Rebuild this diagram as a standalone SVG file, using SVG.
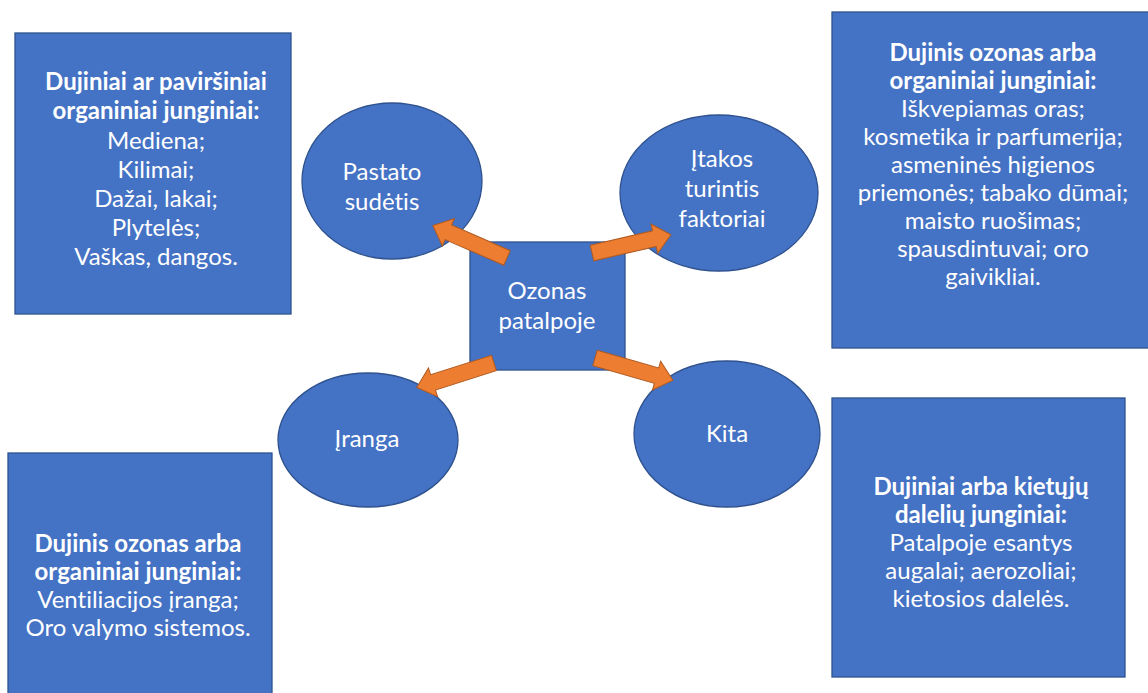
<svg xmlns="http://www.w3.org/2000/svg" width="1148" height="693" viewBox="0 0 1148 693">
<defs>
<style>
.box{fill:#4472C4;stroke:#2F528F;stroke-width:1.3}
.arr{fill:#ED7D31;stroke:#AE5A21;stroke-width:1}
text{font-family:Lato,"Liberation Sans",sans-serif;font-size:24px;fill:#FFFFFF;text-anchor:middle;font-variant-ligatures:none}
.b{font-weight:bold}
.s{font-size:23px}
</style>
<polygon id="ar" points="0,-8 64,-8 64,-15 81,0 64,15 64,8 0,8"/>
</defs>
<rect width="1148" height="693" fill="#FFFFFF"/>
<g id="box-building">
<rect class="box" x="15" y="33" width="276" height="281"/>
<text x="156" y="90" class="b">Dujiniai ar paviršiniai</text>
<text x="156" y="119" class="b">organiniai junginiai:</text>
<text x="156" y="149">Mediena;</text>
<text x="156" y="178">Kilimai;</text>
<text x="156" y="207">Dažai, lakai;</text>
<text x="156" y="236">Plytelės;</text>
<text x="156" y="265">Vaškas, dangos.</text>
</g>
<g id="box-factors">
<rect class="box" x="832" y="12" width="320" height="336"/>
<text x="993" y="61" class="b">Dujinis ozonas arba</text>
<text x="993" y="89" class="b">organiniai junginiai:</text>
<text x="993" y="117">Iškvepiamas oras;</text>
<text x="993" y="145">kosmetika ir parfumerija;</text>
<text x="993" y="173">asmeninės higienos</text>
<text x="993" y="201">priemonės; tabako dūmai;</text>
<text x="993" y="229">maisto ruošimas;</text>
<text x="993" y="257">spausdintuvai; oro</text>
<text x="993" y="285">gaivikliai.</text>
</g>
<g id="box-equipment">
<rect class="box" x="8" y="453" width="264" height="245"/>
<text x="138" y="552" class="b">Dujinis ozonas arba</text>
<text x="138" y="580" class="b">organiniai junginiai:</text>
<text x="138" y="608">Ventiliacijos įranga;</text>
<text x="138" y="636">Oro valymo sistemos.</text>
</g>
<g id="box-other">
<rect class="box" x="832" y="398" width="293" height="279"/>
<text x="981" y="495" class="b">Dujiniai arba kietųjų</text>
<text x="981" y="523" class="b">dalelių junginiai:</text>
<text x="981" y="551">Patalpoje esantys</text>
<text x="981" y="579">augalai; aerozoliai;</text>
<text x="981" y="607">kietosios dalelės.</text>
</g>
<g id="node-center">
<rect class="box" x="470" y="242" width="155" height="128"/>
<text x="547" y="299">Ozonas</text>
<text x="547" y="329">patalpoje</text>
</g>
<g id="node-pastato">
<ellipse class="box" cx="392" cy="181" rx="90" ry="78"/>
<text x="382" y="180">Pastato</text>
<text x="382" y="210">sudėtis</text>
</g>
<g id="node-itakos">
<ellipse class="box" cx="719" cy="193" rx="99" ry="78"/>
<text x="722" y="167">Įtakos</text>
<text x="722" y="197">turintis</text>
<text x="722" y="227">faktoriai</text>
</g>
<g id="node-iranga">
<ellipse class="box" cx="368" cy="440" rx="90" ry="67"/>
<text x="367" y="447">Įranga</text>
</g>
<g id="node-kita">
<ellipse class="box" cx="727" cy="434" rx="93" ry="73"/>
<text x="727" y="442">Kita</text>
</g>
<g id="connectors">
<use href="#ar" class="arr" transform="translate(507,258) rotate(203.7)"/>
<use href="#ar" class="arr" transform="translate(592,253) rotate(-13)"/>
<use href="#ar" class="arr" transform="translate(494,363) rotate(162.4)"/>
<use href="#ar" class="arr" transform="translate(595,358) rotate(16)"/>
</g>
</svg>
